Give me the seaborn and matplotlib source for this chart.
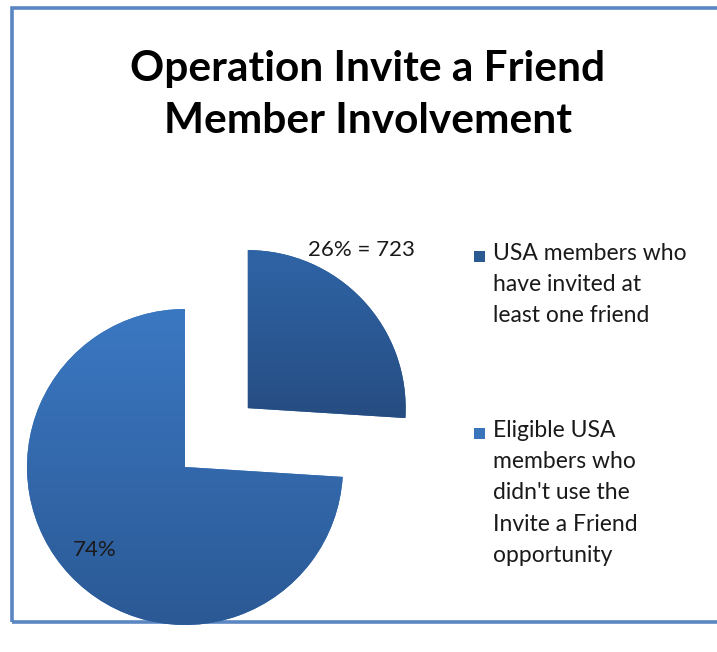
import matplotlib
matplotlib.use("Agg")
import matplotlib.pyplot as plt
from matplotlib.patches import Rectangle
from matplotlib.colors import LinearSegmentedColormap
import numpy as np
import seaborn as sns

sns.set_theme(style="white")
plt.rcParams["font.family"] = ["Lato", "DejaVu Sans"]

# Survey results
categories = [
    "USA members who\nhave invited at\nleast one friend",
    "Eligible USA\nmembers who\ndidn't use the\nInvite a Friend\nopportunity",
]
shares = [26, 74]
invited_count = 723
slice_labels = [f"{shares[0]}% = {invited_count}", f"{shares[1]}%"]
title_text = "Operation Invite a Friend\nMember Involvement"

# colours: top / bottom of each slice gradient
slice_top = ["#2f64a6", "#3b78c2"]
slice_bottom = ["#264d82", "#2b5995"]
legend_colors = ["#2b5a92", "#3a74bb"]

W, H = 717, 652
fig = plt.figure(figsize=(W / 100, H / 100), dpi=100)
ax = fig.add_axes([0, 0, 1, 1])

# frame around the chart
ax.add_patch(Rectangle((12, 30), W + 20, 614, fill=False,
                       edgecolor="#5a86c2", linewidth=2.6, zorder=1))

radius = 158
center = (185, 185)
wedges, _ = ax.pie(shares, radius=radius, center=center, startangle=90,
                   counterclock=False, explode=[86, 0],
                   colors=legend_colors, frame=True,
                   wedgeprops=dict(linewidth=0))
ax.set_xlim(0, W)
ax.set_ylim(0, H)
ax.set_aspect("equal")
ax.axis("off")

# vertical shading inside each slice
for w, top, bot in zip(wedges, slice_top, slice_bottom):
    x0, y0, x1, y1 = w.get_path().get_extents(w.get_patch_transform()).extents
    cmap = LinearSegmentedColormap.from_list("shade", [bot, top])
    grad = np.linspace(0, 1, 256).reshape(-1, 1)
    im = ax.imshow(grad, extent=(x0, x1, y0, y1), origin="lower",
                   cmap=cmap, aspect="auto", zorder=2)
    im.set_clip_path(w)

ax.text(361, 402, slice_labels[0], fontsize=16, ha="center", va="center",
        color="#1a1a1a", zorder=3)
ax.text(95, 102, slice_labels[1], fontsize=16, ha="center", va="center",
        color="#1a1a1a", zorder=3)

fig.text(368 / W, 1 - 95 / H, title_text, fontsize=30.5, fontweight="bold",
         ha="center", va="center", linespacing=1.45, color="black")

# legend: square key aligned with the first line of each entry
entry_tops = [243, 420]
for cat, col, top in zip(categories, legend_colors, entry_tops):
    ax.add_patch(Rectangle((474, H - top - 19), 11, 11, facecolor=col,
                           edgecolor="none", zorder=3))
    ax.text(493, H - top, cat, fontsize=16.5, ha="left", va="top",
            linespacing=1.6, color="#1a1a1a", zorder=3)

fig.savefig("out.png", dpi=100)
